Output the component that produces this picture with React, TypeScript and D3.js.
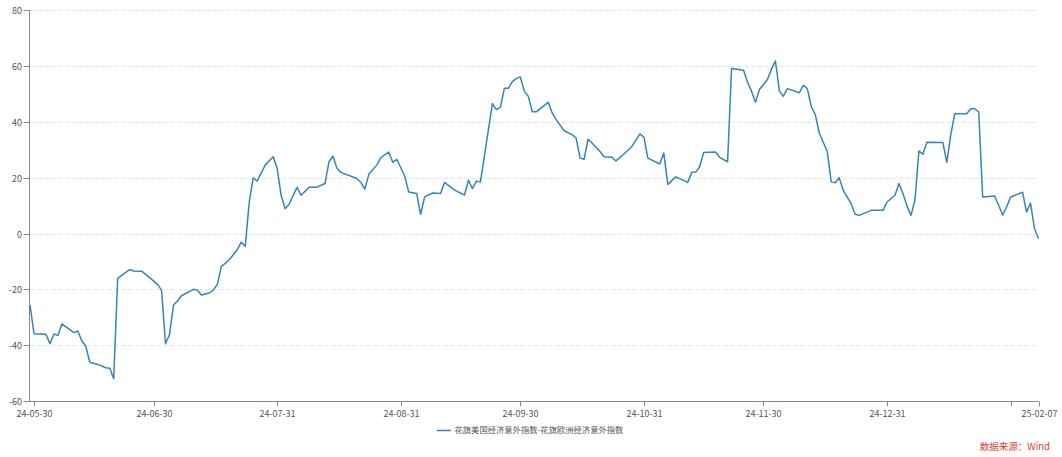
import React from 'react';
import * as d3 from 'd3';

// ---- data ----
const START_DATE = '2024-05-30';
const END_DATE = '2025-02-07';
// days since START_DATE for each observation
const dayOffsets = [
  0, 1, 4, 5, 6, 7, 8, 11, 12, 13, 14, 15, 17, 19, 20, 21, 22, 23, 25, 26, 28, 30, 32, 33, 34, 35, 36, 37, 38, 41,
  42, 43, 45, 46, 47, 48, 49, 50, 51, 52, 53, 54, 55, 56, 57, 59, 61, 62, 63, 64, 65, 66, 67, 68, 70, 72, 74, 75, 76, 77,
  78, 82, 83, 84, 85, 87, 88, 90, 91, 92, 94, 95, 97, 98, 99, 101, 103, 104, 106, 107, 109, 110, 111, 112, 113, 116, 117, 118, 119, 120,
  121, 122, 123, 124, 125, 126, 127, 130, 131, 132, 134, 136, 137, 138, 139, 140, 141, 143, 144, 146, 147, 149, 151, 153, 154, 155, 158, 159, 160, 162,
  165, 166, 167, 168, 169, 172, 173, 175, 176, 179, 180, 181, 182, 183, 185, 186, 187, 188, 189, 190, 193, 194, 195, 196, 197, 198, 200, 201, 202, 203,
  204, 206, 207, 208, 211, 214, 215, 217, 218, 219, 220, 221, 222, 223, 224, 225, 229, 230, 231, 232, 235, 236, 237, 238, 239, 242, 243, 244, 245, 246,
  249, 250, 251, 252, 253,
];
const values = [
  -25.6, -35.9, -36.1, -39.5, -36.0, -36.5, -32.4, -35.5, -34.9, -38.4, -40.4, -46.1, -46.9, -48.1, -48.3, -52.0, -16.1, -15.0, -12.9, -13.4, -13.5, -15.8, -18.2, -20.3, -39.5, -36.2, -25.6, -24.2, -22.3, -20.0,
  -20.3, -22.0, -21.3, -20.2, -18.2, -11.8, -10.7, -9.3, -7.6, -5.8, -3.1, -4.6, 11.3, 19.9, 18.8, 24.5, 27.5, 23.4, 13.7, 8.9, 10.5, 13.6, 16.5, 13.7, 16.6, 16.6, 17.9, 25.7, 27.7, 23.4,
  21.9, 19.7, 18.3, 15.9, 21.2, 24.5, 27.2, 29.2, 25.5, 26.6, 20.6, 14.9, 14.3, 6.9, 13.1, 14.5, 14.3, 18.3, 16.1, 15.2, 13.8, 19.1, 16.1, 18.8, 18.4, 46.5, 44.4, 45.2, 52.0, 52.0,
  54.4, 55.5, 56.1, 51.0, 49.2, 43.6, 43.6, 47.0, 43.2, 40.8, 36.8, 35.4, 34.2, 27.0, 26.6, 33.8, 32.4, 29.4, 27.5, 27.3, 26.0, 28.5, 31.2, 35.7, 34.5, 27.0, 24.9, 28.8, 17.6, 20.3,
  18.3, 21.9, 22.0, 23.9, 29.0, 29.2, 27.3, 25.7, 59.1, 58.5, 54.3, 51.0, 47.0, 51.6, 55.2, 58.8, 61.8, 51.0, 49.2, 51.9, 50.4, 53.1, 51.9, 45.4, 42.6, 36.0, 29.4, 18.5, 18.2, 20.0,
  15.5, 10.7, 6.9, 6.5, 8.3, 8.3, 11.3, 13.7, 17.9, 14.3, 9.9, 6.5, 11.9, 29.6, 28.4, 32.7, 32.6, 25.5, 35.4, 42.9, 42.9, 44.7, 44.7, 43.6, 13.1, 13.4, 10.1, 6.6, 9.5, 13.1,
  14.8, 7.7, 10.9, 1.7, -1.9,
];
const tickDates = [
  '2024-05-31', '2024-06-30', '2024-07-31', '2024-08-31', '2024-09-30',
  '2024-10-31', '2024-11-30', '2024-12-31', '2025-01-31', '2025-02-07',
];
const tickLabels = [
  '24-05-30', '24-06-30', '24-07-31', '24-08-31', '24-09-30',
  '24-10-31', '24-11-30', '24-12-31', '', '25-02-07',
];
const yTicks = [-60, -40, -20, 0, 20, 40, 60, 80];
const seriesName = '花旗美国经济意外指数-花旗欧洲经济意外指数';
const sourceText = '数据来源：Wind';

// ---- layout / style ----
const W = 1062;
const H = 457;
const FONT = '"Microsoft YaHei", "Noto Sans CJK SC", "Noto Sans", sans-serif';
const LINE_COLOR = '#3585b5';
const AXIS_COLOR = '#8a8a8a';
const GRID_COLOR = '#e2e2e2';
const LABEL_COLOR = '#555';

const parse = d3.utcParse('%Y-%m-%d');

export default function App() {
  const start = parse(START_DATE)!;
  const end = parse(END_DATE)!;
  const x = d3.scaleUtc().domain([start, end]).range([30, 1038.5]);
  const y = d3.scaleLinear().domain([-60, 80]).range([401, 10.2]);

  const points = dayOffsets.map((d, i) => ({ date: d3.utcDay.offset(start, d), v: values[i] }));
  const line = d3
    .line<{ date: Date; v: number }>()
    .x((p) => x(p.date))
    .y((p) => y(p.v));

  const x0 = 29.5;
  const x1 = x(end);
  const yBase = Math.round(y(-60)) + 0.5;

  return (
    <svg
      width={W}
      height={H}
      style={{ position: 'absolute', left: 0, top: 0, background: '#fff' }}
      fontFamily={FONT}
    >
      {/* grid */}
      {yTicks
        .filter((t) => t !== -60)
        .map((t) => {
          const yy = Math.round(y(t)) + 0.5;
          return (
            <line key={'g' + t} x1={x0 + 1} x2={x1} y1={yy} y2={yy} stroke={GRID_COLOR} strokeWidth={1} strokeDasharray="4,3" />
          );
        })}
      {/* y axis */}
      <line x1={x0} x2={x0} y1={y(80)} y2={yBase} stroke={AXIS_COLOR} strokeWidth={1} />
      {yTicks.map((t) => {
        const yy = Math.round(y(t)) + 0.5;
        return (
          <g key={'y' + t}>
            <line x1={x0 - 6} x2={x0} y1={yy} y2={yy} stroke={AXIS_COLOR} strokeWidth={1} />
            <text x={x0 - 7.5} y={yy} dy="0.35em" textAnchor="end" fontSize={9} fill={LABEL_COLOR}>
              {t}
            </text>
          </g>
        );
      })}
      {/* x axis */}
      <line x1={x0} x2={x1} y1={yBase} y2={yBase} stroke={AXIS_COLOR} strokeWidth={1} />
      {tickDates.map((d, i) => {
        const xx = Math.round(x(parse(d)!)) + 0.5;
        return (
          <g key={'x' + d}>
            <line x1={xx} x2={xx} y1={yBase} y2={yBase + 5} stroke={AXIS_COLOR} strokeWidth={1} />
            {tickLabels[i] && (
              <text x={xx} y={yBase + 15.5} textAnchor="middle" fontSize={9} fill={LABEL_COLOR}>
                {tickLabels[i]}
              </text>
            )}
          </g>
        );
      })}
      {/* series */}
      <path d={line(points) || ''} fill="none" stroke={LINE_COLOR} strokeWidth={1.5} strokeLinejoin="round" />
      {/* legend */}
      <line x1={437} x2={451} y1={430.5} y2={430.5} stroke={LINE_COLOR} strokeWidth={1.5} />
      <text x={454.5} y={430.5} dy="0.35em" fontSize={8.3} fill={LABEL_COLOR}>
        {seriesName}
      </text>
      {/* source */}
      <text x={1050} y={446.5} dy="0.35em" textAnchor="end" fontSize={9.5} fill="#e23a32">
        {sourceText}
      </text>
    </svg>
  );
}
